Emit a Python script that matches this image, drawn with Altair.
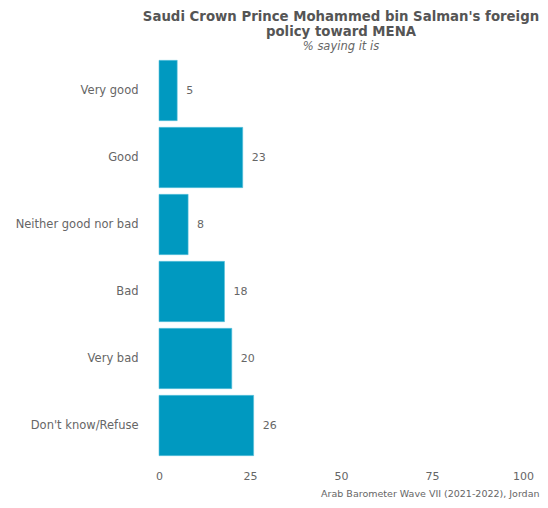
import altair as alt
import pandas as pd

categories = ["Very good", "Good", "Neither good nor bad", "Bad", "Very bad", "Don't know/Refuse"]
values = [5, 23, 8, 18, 20, 26]

df = pd.DataFrame({"answer": categories, "pct": values})

FONT = "DejaVu Sans"
GRAY = "#666666"
DARK = "#555555"

y_enc = alt.Y("answer:N", sort=categories, title=None,
              scale=alt.Scale(paddingInner=0.1, paddingOuter=0.05),
              axis=alt.Axis(domain=False, ticks=False, labelPadding=21, labelFontSize=11.5,
                            labelColor=GRAY, labelFont=FONT))
x_enc = alt.X("pct:Q", scale=alt.Scale(domain=[0, 100]),
              axis=alt.Axis(values=[0, 25, 50, 75, 100], domain=False, ticks=False, grid=False,
                            labelFlush=False,
                            labelPadding=11, labelFontSize=11, labelColor=GRAY, labelFont=FONT,
                            title="Arab Barometer Wave VII (2021-2022), Jordan",
                            titleAnchor="end", titleAlign="right", titleBaseline="alphabetic",
                            titleX=380, titleY=37.5,
                            titleFontSize=9.5, titleFontWeight="normal", titleColor=GRAY,
                            titleFont=FONT))

bars = alt.Chart(df).mark_bar(color="#0099c0", stroke="#5cc3dc", strokeWidth=0.6).encode(
    x=x_enc, y=y_enc)
labels = alt.Chart(df).mark_text(align="left", dx=9, fontSize=11, color=GRAY, font=FONT).encode(
    x="pct:Q", y=alt.Y("answer:N", sort=categories), text="pct:Q")

chart = alt.layer(bars, labels).properties(
    width=364, height=402,
    autosize=alt.AutoSizeParams(type="none"),
    padding={"left": 151, "top": 49, "right": 17, "bottom": 41},
    title=alt.TitleParams(
        text=["Saudi Crown Prince Mohammed bin Salman's foreign", "policy toward MENA"],
        subtitle="% saying it is", anchor="middle", font=FONT, fontSize=13.3, fontWeight="bold",
        color=DARK, lineHeight=15, subtitleFont=FONT, subtitleFontSize=11.5,
        subtitleFontStyle="italic", subtitleColor=GRAY, subtitlePadding=2, offset=5),
).configure_view(stroke=None)

chart.save("out.html", embed_options={"renderer": "svg", "actions": False})
